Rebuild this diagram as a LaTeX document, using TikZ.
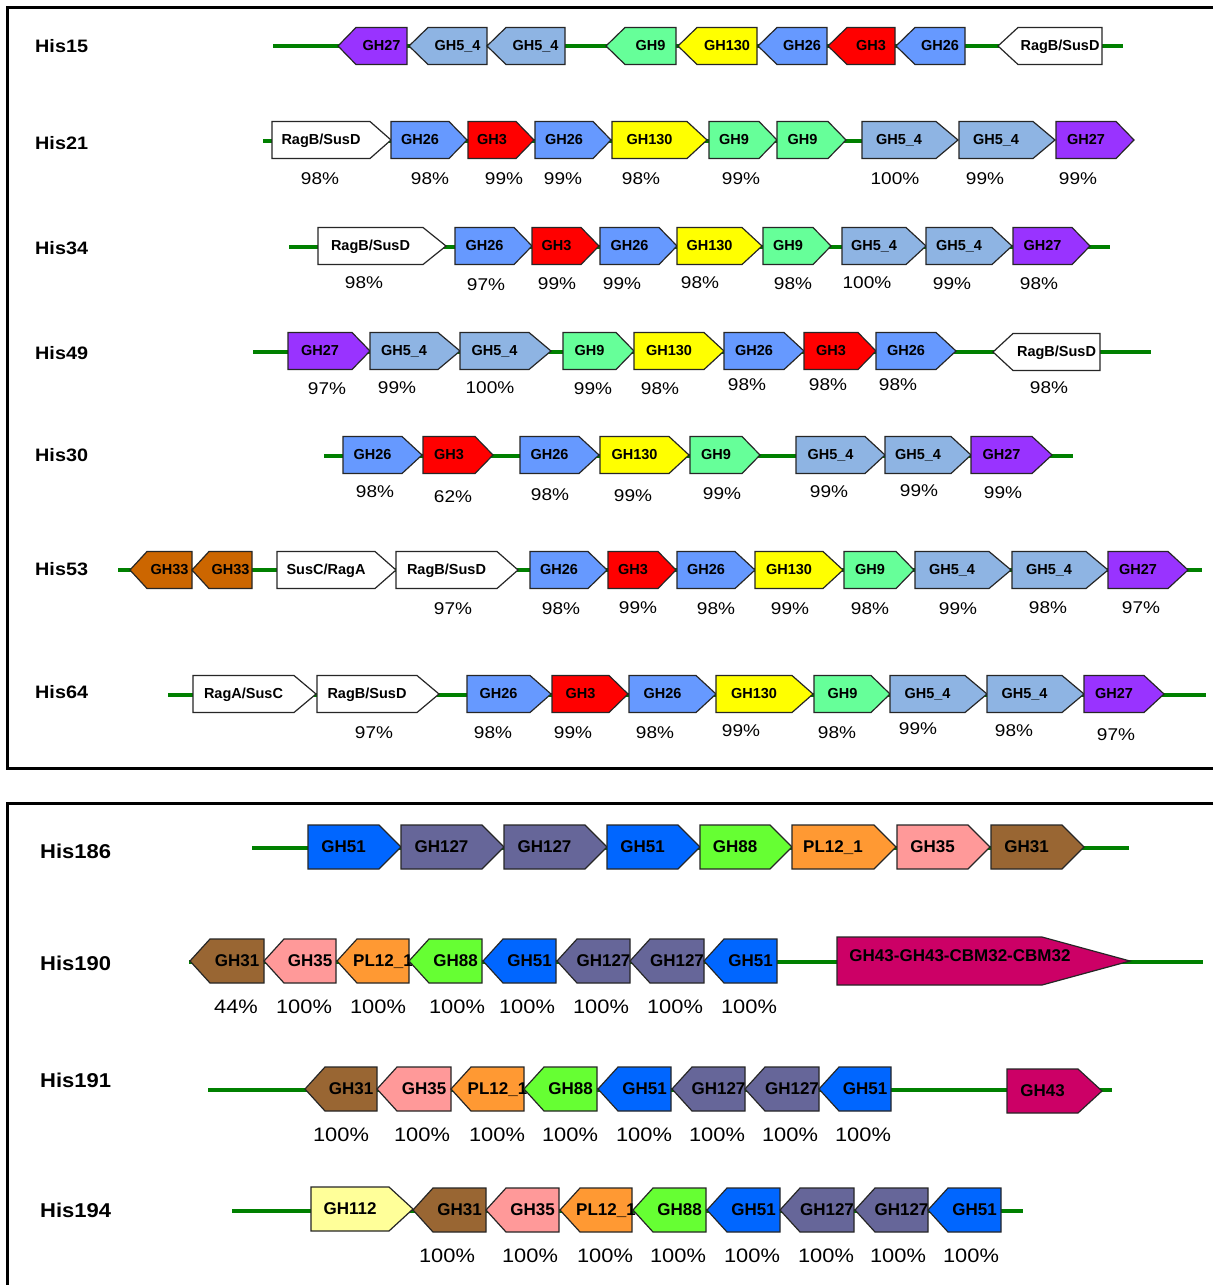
\documentclass[tikz,border=0pt]{standalone}
\usepackage{fontspec}
\setmainfont{Liberation Sans}
\newfontfamily\lblfont[FakeStretch=1.1]{Liberation Sans}
\newfontfamily\pctfont[FakeStretch=1.12]{Liberation Sans}
\definecolor{gh27}{HTML}{9933FF}
\definecolor{gh54}{HTML}{8EB4E3}
\definecolor{gh9}{HTML}{66FF99}
\definecolor{gh130}{HTML}{FFFF00}
\definecolor{gh26}{HTML}{6699FF}
\definecolor{gh3}{HTML}{FF0000}
\definecolor{gh33}{HTML}{CC6600}
\definecolor{gh51}{HTML}{0066FF}
\definecolor{gh127}{HTML}{666699}
\definecolor{gh88}{HTML}{66FF33}
\definecolor{pl12}{HTML}{FF9933}
\definecolor{gh35}{HTML}{FF9999}
\definecolor{gh31}{HTML}{996633}
\definecolor{gh43}{HTML}{CC0066}
\definecolor{gh112}{HTML}{FFFF99}
\definecolor{bb}{HTML}{008000}
% #1 name, #2 R/L, #3 x1, #4 x2, #5 yc, #6 point length, #7 fill, #8 label
\newcommand\gene[8]{%
  \ifx R#2
    \draw[genebox,fill=#7] (#3,#5-\hh) -- (#4-#6,#5-\hh) -- (#4,#5) -- (#4-#6,#5+\hh) -- (#3,#5+\hh) -- cycle;
    \node[genelbl] (#1) at ({(#3+#4-#6)/2},#5+\lofs) {#8};
  \else
    \draw[genebox,fill=#7] (#4,#5-\hh) -- (#3+#6,#5-\hh) -- (#3,#5) -- (#3+#6,#5+\hh) -- (#4,#5+\hh) -- cycle;
    \node[genelbl] (#1) at ({(#3+#6+#4)/2},#5+\lofs) {#8};
  \fi}
\newcommand\pcts[2]{\foreach \px/\py/\pv [count=\pi] in {#2} \node[pct] (#1-\pi) at (\px,\py) {\pv\%};}
\newcommand\backbone[4]{\coordinate (#1a) at (#2,#4); \coordinate (#1b) at (#3,#4); \draw[bbline] (#1a) -- (#1b);}
\begin{document}
\begin{tikzpicture}[x=1pt,y=-1pt,
 genebox/.style={draw=black!85,line width=1.2pt,line join=miter},
 genelbl/.style={font=\bfseries\fontsize{14.5}{14.5}\selectfont,inner sep=0pt,anchor=base},
 pct/.style={font=\pctfont\fontsize{17}{17}\selectfont,inner sep=0pt},
 rowlbl/.style={font=\lblfont\bfseries\fontsize{18}{18}\selectfont,inner sep=0pt,anchor=west},
 bbline/.style={draw=bb,line width=3.5pt},
 frame/.style={draw=black,line width=3pt}]
\useasboundingbox (0,0) rectangle (1213,1285);
\fill[white] (0,0) rectangle (1213,1285);
\draw[frame] (1213,7) -- (7,7) -- (7,768) -- (1213,768);
\draw[frame] (1213,803) -- (7,803) -- (7,1285);

% ---------------- Panel 1 ----------------
\def\hh{18.5}\def\lofs{4.5}
\node[rowlbl] (L15) at (35,46) {His15};
\node[rowlbl] (L21) at (35,143) {His21};
\node[rowlbl] (L34) at (35,248) {His34};
\node[rowlbl] (L49) at (35,353) {His49};
\node[rowlbl] (L30) at (35,455) {His30};
\node[rowlbl] (L53) at (35,569) {His53};
\node[rowlbl] (L64) at (35,692) {His64};

% His15
\backbone{b15}{273}{1123}{46}
\gene{a1}{L}{338}{407}{46}{18}{gh27}{GH27}
\gene{a2}{L}{409}{487}{46}{19}{gh54}{GH5\_4}
\gene{a3}{L}{487}{565}{46}{19}{gh54}{GH5\_4}
\gene{a4}{L}{606}{676}{46}{19}{gh9}{GH9}
\gene{a5}{L}{678}{757}{46}{19}{gh130}{GH130}
\gene{a6}{L}{758}{827}{46}{19}{gh26}{GH26}
\gene{a7}{L}{828}{895}{46}{19}{gh3}{GH3}
\gene{a8}{L}{896}{965}{46}{19}{gh26}{GH26}
\gene{a9}{L}{998}{1102}{46}{20}{white}{RagB/SusD}

% His21
\backbone{b21}{263}{862}{141}
\gene{c1}{R}{272}{391}{140}{21}{white}{RagB/SusD}
\gene{c2}{R}{391}{467}{140}{18}{gh26}{GH26}
\gene{c3}{R}{468}{534}{140}{18}{gh3}{GH3}
\gene{c4}{R}{535}{611}{140}{18}{gh26}{GH26}
\gene{c5}{R}{612}{707}{140}{20}{gh130}{GH130}
\gene{c6}{R}{709}{777}{140}{18}{gh9}{GH9}
\gene{c7}{R}{777}{846}{140}{18}{gh9}{GH9}
\gene{c8}{R}{862}{958}{140}{22}{gh54}{GH5\_4}
\gene{c9}{R}{959}{1055}{140}{22}{gh54}{GH5\_4}
\gene{c10}{R}{1056}{1134}{140}{18}{gh27}{GH27}
\pcts{p21}{320/179/98,430/179/98,504/179/99,563/179/99,641/179/98,741/179/99,895/179/100,985/179/99,1078/179/99}

% His34
\backbone{b34}{289}{1110}{247}
\gene{d1}{R}{318}{446}{246}{23}{white}{RagB/SusD}
\gene{d2}{R}{455}{532}{246}{18}{gh26}{GH26}
\gene{d3}{R}{532}{599}{246}{18}{gh3}{GH3}
\gene{d4}{R}{600}{677}{246}{18}{gh26}{GH26}
\gene{d5}{R}{677}{762}{246}{20}{gh130}{GH130}
\gene{d6}{R}{763}{831}{246}{18}{gh9}{GH9}
\gene{d7}{R}{842}{926}{246}{20}{gh54}{GH5\_4}
\gene{d8}{R}{926}{1012}{246}{20}{gh54}{GH5\_4}
\gene{d9}{R}{1013}{1090}{246}{18}{gh27}{GH27}
\pcts{p34}{364/283/98,486/285/97,557/284/99,622/284/99,700/283/98,793/284/98,867/283/100,952/284/99,1039/284/98}

% His49
\backbone{b49}{253}{1151}{352}
\gene{e1}{R}{288}{370}{351}{18}{gh27}{GH27}
\gene{e2}{R}{370}{460}{351}{22}{gh54}{GH5\_4}
\gene{e3}{R}{460}{551}{351}{22}{gh54}{GH5\_4}
\gene{e4}{R}{563}{634}{351}{18}{gh9}{GH9}
\gene{e5}{R}{634}{724}{351}{20}{gh130}{GH130}
\gene{e6}{R}{724}{804}{351}{20}{gh26}{GH26}
\gene{e7}{R}{804}{876}{351}{18}{gh3}{GH3}
\gene{e8}{R}{876}{956}{351}{20}{gh26}{GH26}
\gene{e9}{L}{993}{1100}{352}{20}{white}{RagB/SusD}
\pcts{p49}{327/389/97,397/388/99,490/388/100,593/389/99,660/389/98,747/385/98,828/385/98,898/385/98,1049/388/98}

% His30
\backbone{b30}{324}{1073}{456}
\gene{f1}{R}{343}{422}{455}{20}{gh26}{GH26}
\gene{f2}{R}{423}{493}{455}{18}{gh3}{GH3}
\gene{f3}{R}{520}{599}{455}{20}{gh26}{GH26}
\gene{f4}{R}{600}{689}{455}{20}{gh130}{GH130}
\gene{f5}{R}{690}{760}{455}{18}{gh9}{GH9}
\gene{f6}{R}{796}{885}{455}{20}{gh54}{GH5\_4}
\gene{f7}{R}{885}{971}{455}{20}{gh54}{GH5\_4}
\gene{f8}{R}{971}{1052}{455}{20}{gh27}{GH27}
\pcts{p30}{375/492/98,453/497/62,550/495/98,633/496/99,722/494/99,829/492/99,919/491/99,1003/493/99}

% His53
\backbone{b53}{118}{1202}{570}
\gene{g1}{L}{130}{192}{570}{17}{gh33}{GH33}
\gene{g2}{L}{192}{252}{570}{17}{gh33}{GH33}
\gene{g3}{R}{277}{396}{570}{21}{white}{SusC/RagA}
\gene{g4}{R}{396}{518}{570}{21}{white}{RagB/SusD}
\gene{g5}{R}{530}{607}{570}{19}{gh26}{GH26}
\gene{g6}{R}{608}{676}{570}{18}{gh3}{GH3}
\gene{g7}{R}{677}{755}{570}{20}{gh26}{GH26}
\gene{g8}{R}{755}{843}{570}{20}{gh130}{GH130}
\gene{g9}{R}{844}{914}{570}{18}{gh9}{GH9}
\gene{g10}{R}{915}{1011}{570}{22}{gh54}{GH5\_4}
\gene{g11}{R}{1012}{1108}{570}{22}{gh54}{GH5\_4}
\gene{g12}{R}{1108}{1188}{570}{20}{gh27}{GH27}
\pcts{p53}{453/609/97,561/609/98,638/608/99,716/609/98,790/609/99,870/609/98,958/609/99,1048/608/98,1141/608/97}

% His64
\backbone{b64}{168}{1206}{695}
\gene{h1}{R}{193}{316}{694}{22}{white}{RagA/SusC}
\gene{h2}{R}{317}{439}{694}{22}{white}{RagB/SusD}
\gene{h3}{R}{467}{551}{694}{21}{gh26}{GH26}
\gene{h4}{R}{552}{628}{694}{19}{gh3}{GH3}
\gene{h5}{R}{629}{716}{694}{20}{gh26}{GH26}
\gene{h6}{R}{716}{813}{694}{21}{gh130}{GH130}
\gene{h7}{R}{814}{890}{694}{19}{gh9}{GH9}
\gene{h8}{R}{890}{987}{694}{22}{gh54}{GH5\_4}
\gene{h9}{R}{987}{1084}{694}{22}{gh54}{GH5\_4}
\gene{h10}{R}{1084}{1164}{694}{20}{gh27}{GH27}
\pcts{p64}{374/733/97,493/733/98,573/733/99,655/733/98,741/731/99,837/733/98,918/729/99,1014/731/98,1116/735/97}

% ---------------- Panel 2 ----------------
\begin{scope}[genelbl/.style={font=\bfseries\fontsize{17}{17}\selectfont,inner sep=0pt,anchor=base},
 pct/.style={font=\pctfont\fontsize{19.5}{19.5}\selectfont,inner sep=0pt},
 rowlbl/.style={font=\lblfont\bfseries\fontsize{20}{20}\selectfont,inner sep=0pt,anchor=west}]
\def\hh{22}\def\lofs{5.5}
\node[rowlbl] (L186) at (40,851) {His186};
\node[rowlbl] (L190) at (40,963) {His190};
\node[rowlbl] (L191) at (40,1080) {His191};
\node[rowlbl] (L194) at (40,1210) {His194};

% His186
\backbone{b186}{252}{1129}{848}
\gene{k1}{R}{308}{401}{847}{22}{gh51}{GH51}
\gene{k2}{R}{401}{504}{847}{22}{gh127}{GH127}
\gene{k3}{R}{504}{607}{847}{22}{gh127}{GH127}
\gene{k4}{R}{607}{700}{847}{22}{gh51}{GH51}
\gene{k5}{R}{700}{792}{847}{22}{gh88}{GH88}
\gene{k6}{R}{792}{896}{847}{22}{pl12}{PL12\_1}
\gene{k7}{R}{897}{990}{847}{22}{gh35}{GH35}
\gene{k8}{R}{991}{1084}{847}{22}{gh31}{GH31}

% His190
\backbone{b190}{189}{1203}{962}
\gene{m1}{L}{190}{264}{961}{20}{gh31}{GH31}
\gene{m2}{L}{264}{336}{961}{20}{gh35}{GH35}
\gene{m3}{L}{337}{409}{961}{20}{pl12}{PL12\_1}
\gene{m4}{L}{409}{482}{961}{20}{gh88}{GH88}
\gene{m5}{L}{483}{556}{961}{20}{gh51}{GH51}
\gene{m6}{L}{557}{630}{961}{20}{gh127}{GH127}
\gene{m7}{L}{630}{704}{961}{20}{gh127}{GH127}
\gene{m8}{L}{704}{777}{961}{20}{gh51}{GH51}
\draw[genebox,fill=gh43] (837,937) -- (1042,937) -- (1130,961) -- (1042,985) -- (837,985) -- cycle;
\node[genelbl] (m9) at (960,961) {GH43-GH43-CBM32-CBM32};
\pcts{p190}{236/1007/44,304/1007/100,378/1007/100,457/1007/100,527/1007/100,601/1007/100,675/1007/100,749/1007/100}

% His191
\backbone{b191}{208}{1112}{1090}
\gene{n1}{L}{305}{377}{1089}{20}{gh31}{GH31}
\gene{n2}{L}{377}{451}{1089}{20}{gh35}{GH35}
\gene{n3}{L}{451}{524}{1089}{20}{pl12}{PL12\_1}
\gene{n4}{L}{524}{597}{1089}{20}{gh88}{GH88}
\gene{n5}{L}{598}{671}{1089}{20}{gh51}{GH51}
\gene{n6}{L}{672}{745}{1089}{20}{gh127}{GH127}
\gene{n7}{L}{745}{819}{1089}{20}{gh127}{GH127}
\gene{n8}{L}{819}{891}{1089}{20}{gh51}{GH51}
\gene{n9}{R}{1007}{1102}{1091}{24}{gh43}{GH43}
\pcts{p191}{341/1135/100,422/1135/100,497/1135/100,570/1135/100,644/1135/100,717/1135/100,790/1135/100,863/1135/100}

% His194
\backbone{b194}{232}{1023}{1211}
\gene{q1}{R}{311}{413}{1209}{24}{gh112}{GH112}
\gene{q2}{L}{413}{486}{1210}{20}{gh31}{GH31}
\gene{q3}{L}{486}{559}{1210}{20}{gh35}{GH35}
\gene{q4}{L}{560}{632}{1210}{20}{pl12}{PL12\_1}
\gene{q5}{L}{633}{706}{1210}{20}{gh88}{GH88}
\gene{q6}{L}{707}{780}{1210}{20}{gh51}{GH51}
\gene{q7}{L}{780}{854}{1210}{20}{gh127}{GH127}
\gene{q8}{L}{855}{928}{1210}{20}{gh127}{GH127}
\gene{q9}{L}{928}{1001}{1210}{20}{gh51}{GH51}
\pcts{p194}{447/1256/100,530/1256/100,605/1256/100,678/1256/100,752/1256/100,826/1256/100,898/1256/100,971/1256/100}
\end{scope}
\end{tikzpicture}
\end{document}
